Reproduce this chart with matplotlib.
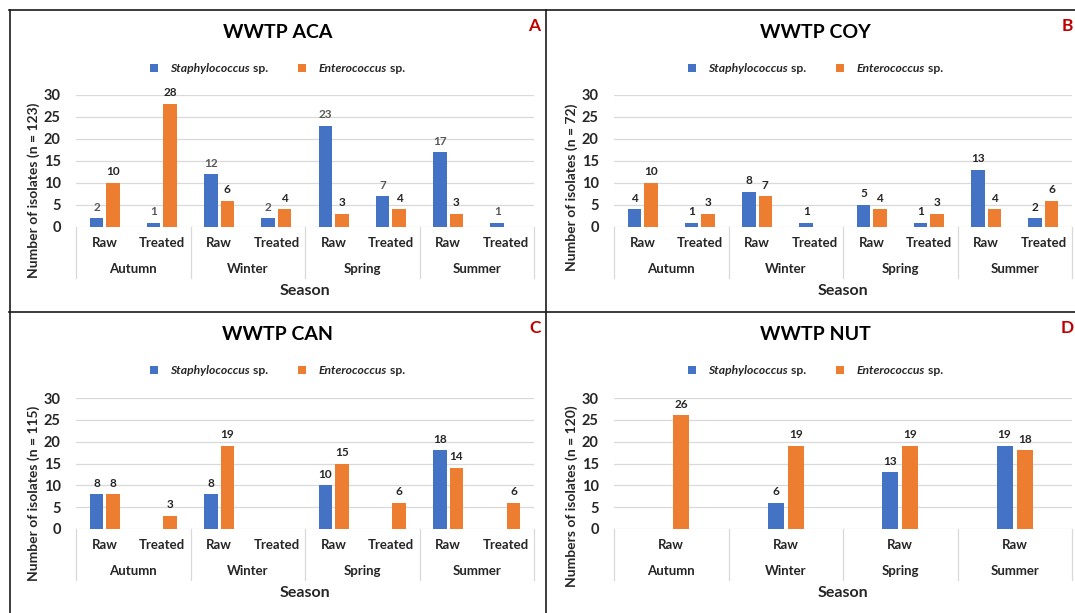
import numpy as np
import matplotlib
matplotlib.use('Agg')
import matplotlib.pyplot as plt
import matplotlib.transforms as mtrans
from matplotlib.lines import Line2D
from matplotlib.patches import Rectangle
from matplotlib.offsetbox import HPacker, TextArea, DrawingArea, AnnotationBbox

# data (zero = no bar)
seasons = ['Autumn', 'Winter', 'Spring', 'Summer']
stages = ['Raw', 'Treated']

aca_staph = [2, 1, 12, 2, 23, 7, 17, 1]
aca_entero = [10, 28, 6, 4, 3, 4, 3, 0]
coy_staph = [4, 1, 8, 1, 5, 1, 13, 2]
coy_entero = [10, 3, 7, 0, 4, 3, 4, 6]
can_staph = [8, 0, 8, 0, 10, 0, 18, 0]
can_entero = [8, 3, 19, 0, 15, 6, 14, 6]
nut_stages = ['Raw']
nut_staph = [0, 6, 13, 19]
nut_entero = [26, 19, 19, 18]

BLUE = '#4472C4'
ORANGE = '#ED7D31'
GRID = '#D9D9D9'
TXT = '#262626'
W, H = 1075, 613

plt.rcParams['font.family'] = ['Lato', 'DejaVu Sans']

fig = plt.figure(figsize=(W / 100, H / 100), dpi=100)


def fy(y):
    return 1 - y / H


def legend(x, y):
    def square(c):
        da = DrawingArea(5.5, 5.5, 0, 0)
        da.add_artist(Rectangle((0, 0), 5.5, 5.5, fc=c, ec='none'))
        return da

    def gap(w):
        return DrawingArea(w, 1, 0, 0)

    tp_it = dict(fontsize=8.7, fontweight='bold', fontstyle='italic', color=TXT)
    tp = dict(fontsize=8.7, fontweight='bold', color=TXT)
    box = HPacker(children=[square(BLUE), gap(9),
                            TextArea('Staphylococcus', textprops=tp_it),
                            TextArea(' sp.', textprops=tp), gap(22),
                            square(ORANGE), gap(9),
                            TextArea('Enterococcus', textprops=tp_it),
                            TextArea(' sp.', textprops=tp)],
                  align='center', pad=0, sep=0)
    ab = AnnotationBbox(box, (x / W, fy(y)), xycoords='figure fraction',
                        box_alignment=(0, 0.5), frameon=False, pad=0)
    fig.add_artist(ab)


def draw_panel(x0, x1, y30, y0, stage_labels, staph, entero, ylabel, title,
               letter, letter_x, title_x, ylab_x, ylab_y, width, offset,
               staph_lab_color=TXT):
    ax = fig.add_axes([x0 / W, fy(y0), (x1 - x0) / W, (y0 - y30) / H])
    n = len(staph)
    xs = np.arange(n)
    b1 = ax.bar(xs - offset, staph, width, color=BLUE)
    b2 = ax.bar(xs + offset, entero, width, color=ORANGE)
    for bars, vals, col in [(b1, staph, staph_lab_color), (b2, entero, TXT)]:
        for rect, v in zip(bars, vals):
            if v:
                ax.annotate(str(v), (rect.get_x() + rect.get_width() / 2, v),
                            xytext=(0, 4), textcoords='offset points',
                            ha='center', va='bottom', fontsize=8.5,
                            fontweight='bold', color=col)
    ax.set_xlim(-0.5, n - 0.5)
    ax.set_ylim(0, 30)
    ax.set_yticks(range(0, 31, 5))
    ax.tick_params(axis='y', length=0, pad=11, labelsize=10.5, labelcolor=TXT)
    for lbl in ax.get_yticklabels():
        lbl.set_fontweight('bold')
    ax.set_xticks([])
    for s in ax.spines.values():
        s.set_visible(False)
    ax.yaxis.grid(True, color=GRID, lw=0.9)
    ax.set_axisbelow(True)

    tr = mtrans.blended_transform_factory(ax.transData, fig.transFigure)
    per = len(stage_labels)
    for i in range(n):
        ax.text(i, fy(y0 + 16), stage_labels[i % per], transform=tr,
                ha='center', va='center', fontsize=9.5, fontweight='bold', color=TXT)
    for k, s in enumerate(seasons):
        ax.text(k * per + (per - 1) / 2, fy(y0 + 42), s, transform=tr,
                ha='center', va='center', fontsize=9.5, fontweight='bold', color=TXT)
    for k in range(5):
        xl = k * per - 0.5
        ax.add_line(Line2D([xl, xl], [fy(y0), fy(y0 + 51)], transform=tr,
                           color=GRID, lw=0.9, clip_on=False))

    fig.text(title_x / W, fy(y0 - 195), title, ha='center', va='center',
             fontsize=14, fontweight='bold', color='black')
    fig.text(letter_x / W, fy(y0 - 201), letter, ha='left', va='center',
             fontsize=12.5, fontweight='bold', color='#C00000')
    fig.text((x0 + x1) / 2 / W, fy(y0 + 64), 'Season', ha='center', va='center',
             fontsize=11.5, fontweight='bold', color=TXT)
    fig.text(ylab_x / W, fy(ylab_y), ylabel, rotation=90, ha='center',
             va='center', fontsize=10, fontweight='bold', color=TXT)
    legend(x0 + 74, y0 - 159)
    return ax


draw_panel(76, 534, 95, 227, stages, aca_staph, aca_entero,
           'Number of isolates (n = 123)', 'WWTP ACA', 'A', 528, 278, 34, 190,
           0.237, 0.143, staph_lab_color='#595959')
draw_panel(614, 1072, 95, 227, stages, coy_staph, coy_entero,
           'Number of isolates (n = 72)', 'WWTP COY', 'B', 1062, 815, 572, 187,
           0.237, 0.143)
draw_panel(76, 534, 398, 529, stages, can_staph, can_entero,
           'Number of isolates (n = 115)', 'WWTP CAN', 'C', 529, 278, 34, 493,
           0.237, 0.143)
draw_panel(614, 1072, 398, 529, nut_stages, nut_staph, nut_entero,
           'Numbers of isolates (n = 120)', 'WWTP NUT', 'D', 1061, 815, 572, 496,
           0.139, 0.089)

# panel frame lines
for xs_, ys_ in [([9, W], [10, 10]), ([9.5, 9.5], [10, H]),
                 ([546, 546], [10, H]), ([9, W], [312, 312])]:
    fig.add_artist(Line2D([x / W for x in xs_], [fy(y) for y in ys_],
                          transform=fig.transFigure, color='#1a1a1a', lw=1.2))

fig.savefig('out.png', dpi=100)
